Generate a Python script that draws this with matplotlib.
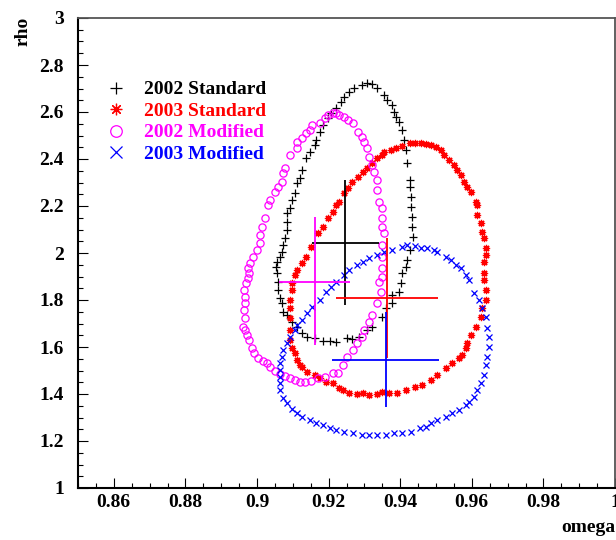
import matplotlib
matplotlib.use("Agg")
import matplotlib.pyplot as plt
from matplotlib.ticker import MultipleLocator, FuncFormatter

# 1-sigma contours in the (omega, rho) plane
std2002_omega = [0.9306, 0.9322, 0.9336, 0.9356, 0.9364, 0.9378, 0.9384, 0.9389, 0.9398, 0.9406,
                 0.9412, 0.9417, 0.9420, 0.9426, 0.9426, 0.9431, 0.9431, 0.9434, 0.9434, 0.9437,
                 0.9426, 0.9420, 0.9417, 0.9406, 0.9403, 0.9398, 0.9378, 0.9378, 0.9361, 0.9350,
                 0.9322, 0.9308, 0.9286, 0.9264, 0.9250, 0.9222, 0.9203, 0.9183, 0.9161, 0.9141,
                 0.9127, 0.9111, 0.9097, 0.9083, 0.9072, 0.9069, 0.9063, 0.9060, 0.9058, 0.9055,
                 0.9052, 0.9055, 0.9063, 0.9069, 0.9072, 0.9077, 0.9083, 0.9083, 0.9085, 0.9091,
                 0.9097, 0.9105, 0.9113, 0.9119, 0.9125, 0.9138, 0.9147, 0.9161, 0.9166, 0.9175,
                 0.9183, 0.9197, 0.9208, 0.9222, 0.9236, 0.9244, 0.9258, 0.9272, 0.9292]
std2002_rho = [2.723, 2.719, 2.702, 2.672, 2.651, 2.630, 2.600, 2.579, 2.557, 2.523,
               2.481, 2.438, 2.383, 2.311, 2.281, 2.238, 2.196, 2.153, 2.111, 2.068,
               2.013, 1.970, 1.940, 1.915, 1.872, 1.834, 1.821, 1.787, 1.766, 1.728,
               1.685, 1.672, 1.643, 1.634, 1.638, 1.621, 1.626, 1.626, 1.638, 1.643,
               1.660, 1.685, 1.706, 1.736, 1.749, 1.787, 1.809, 1.843, 1.877, 1.915,
               1.940, 1.962, 1.983, 2.004, 2.034, 2.064, 2.098, 2.132, 2.170, 2.191,
               2.226, 2.255, 2.298, 2.319, 2.353, 2.404, 2.430, 2.460, 2.481, 2.515,
               2.545, 2.574, 2.596, 2.617, 2.643, 2.664, 2.685, 2.702, 2.715]

std2003_omega = [0.9306, 0.9320, 0.9334, 0.9348, 0.9356, 0.9375, 0.9389, 0.9406, 0.9426, 0.9440,
                 0.9459, 0.9473, 0.9487, 0.9501, 0.9515, 0.9523, 0.9537, 0.9551, 0.9559, 0.9571,
                 0.9579, 0.9587, 0.9598, 0.9612, 0.9615, 0.9615, 0.9626, 0.9629, 0.9635, 0.9640,
                 0.9640, 0.9635, 0.9635, 0.9635, 0.9640, 0.9640, 0.9629, 0.9626, 0.9612, 0.9598,
                 0.9587, 0.9585, 0.9573, 0.9565, 0.9546, 0.9529, 0.9504, 0.9487, 0.9462, 0.9440,
                 0.9417, 0.9392, 0.9370, 0.9350, 0.9334, 0.9314, 0.9295, 0.9278, 0.9258, 0.9239,
                 0.9230, 0.9211, 0.9194, 0.9175, 0.9161, 0.9141, 0.9127, 0.9119, 0.9113, 0.9105,
                 0.9097, 0.9091, 0.9091, 0.9091, 0.9091, 0.9091, 0.9097, 0.9097, 0.9105, 0.9111,
                 0.9127, 0.9138, 0.9152, 0.9169, 0.9183, 0.9197, 0.9211, 0.9222, 0.9230, 0.9244,
                 0.9253, 0.9264, 0.9281, 0.9295]
std2003_rho = [2.362, 2.383, 2.404, 2.417, 2.430, 2.438, 2.447, 2.455, 2.468, 2.468,
               2.468, 2.464, 2.460, 2.451, 2.438, 2.417, 2.396, 2.374, 2.353, 2.332,
               2.302, 2.281, 2.260, 2.217, 2.204, 2.162, 2.128, 2.089, 2.064, 2.021,
               1.991, 1.962, 1.915, 1.885, 1.843, 1.800, 1.766, 1.728, 1.685, 1.651,
               1.617, 1.596, 1.566, 1.553, 1.532, 1.511, 1.481, 1.460, 1.438, 1.430,
               1.417, 1.404, 1.404, 1.409, 1.400, 1.396, 1.404, 1.400, 1.404, 1.417,
               1.426, 1.447, 1.451, 1.468, 1.481, 1.494, 1.515, 1.523, 1.545, 1.574,
               1.596, 1.630, 1.672, 1.723, 1.766, 1.800, 1.843, 1.872, 1.906, 1.928,
               1.957, 1.983, 2.026, 2.085, 2.111, 2.149, 2.174, 2.204, 2.217, 2.255,
               2.277, 2.302, 2.323, 2.345]

mod2002_omega = [0.9211, 0.9222, 0.9230, 0.9244, 0.9253, 0.9267, 0.9281, 0.9292, 0.9300, 0.9306,
                 0.9314, 0.9322, 0.9328, 0.9334, 0.9336, 0.9342, 0.9348, 0.9350, 0.9350, 0.9356,
                 0.9350, 0.9350, 0.9350, 0.9350, 0.9342, 0.9345, 0.9334, 0.9322, 0.9314, 0.9300,
                 0.9292, 0.9278, 0.9267, 0.9250, 0.9239, 0.9225, 0.9211, 0.9189, 0.9169, 0.9152,
                 0.9133, 0.9119, 0.9105, 0.9091, 0.9077, 0.9063, 0.9049, 0.9035, 0.9027, 0.9016,
                 0.9002, 0.8993, 0.8985, 0.8977, 0.8971, 0.8966, 0.8960, 0.8966, 0.8963, 0.8966,
                 0.8966, 0.8963, 0.8968, 0.8974, 0.8977, 0.8974, 0.8980, 0.8988, 0.8999, 0.9007,
                 0.9007, 0.9013, 0.9021, 0.9030, 0.9035, 0.9049, 0.9058, 0.9069, 0.9072, 0.9077,
                 0.9091, 0.9111, 0.9113, 0.9127, 0.9138, 0.9147, 0.9155, 0.9175, 0.9189, 0.9197]
mod2002_rho = [2.596, 2.596, 2.587, 2.579, 2.566, 2.553, 2.515, 2.494, 2.472, 2.447,
               2.409, 2.374, 2.345, 2.311, 2.268, 2.217, 2.191, 2.149, 2.111, 2.085,
               2.034, 1.983, 1.936, 1.898, 1.877, 1.834, 1.787, 1.736, 1.706, 1.672,
               1.643, 1.617, 1.587, 1.557, 1.523, 1.489, 1.489, 1.472, 1.468, 1.455,
               1.451, 1.451, 1.460, 1.468, 1.477, 1.485, 1.498, 1.515, 1.532, 1.540,
               1.553, 1.574, 1.596, 1.630, 1.651, 1.672, 1.685, 1.723, 1.757, 1.787,
               1.813, 1.843, 1.872, 1.894, 1.915, 1.936, 1.957, 1.983, 2.013, 2.043,
               2.077, 2.111, 2.149, 2.204, 2.226, 2.260, 2.281, 2.302, 2.340, 2.362,
               2.417, 2.447, 2.472, 2.489, 2.511, 2.523, 2.545, 2.553, 2.574, 2.587]

mod2003_omega = [0.9420, 0.9440, 0.9459, 0.9476, 0.9495, 0.9504, 0.9529, 0.9543, 0.9557, 0.9571,
                 0.9585, 0.9593, 0.9607, 0.9621, 0.9629, 0.9640, 0.9643, 0.9649, 0.9649, 0.9643,
                 0.9640, 0.9635, 0.9626, 0.9615, 0.9607, 0.9593, 0.9585, 0.9565, 0.9546, 0.9529,
                 0.9504, 0.9487, 0.9473, 0.9454, 0.9431, 0.9406, 0.9384, 0.9361, 0.9336, 0.9314,
                 0.9292, 0.9267, 0.9244, 0.9222, 0.9203, 0.9183, 0.9166, 0.9147, 0.9127, 0.9111,
                 0.9097, 0.9083, 0.9072, 0.9063, 0.9063, 0.9063, 0.9063, 0.9063, 0.9069, 0.9072,
                 0.9083, 0.9091, 0.9105, 0.9113, 0.9127, 0.9141, 0.9155, 0.9175, 0.9194, 0.9208,
                 0.9222, 0.9244, 0.9258, 0.9278, 0.9295, 0.9314, 0.9334, 0.9356, 0.9378, 0.9406]
mod2003_rho = [2.034, 2.030, 2.021, 2.021, 2.013, 2.004, 1.983, 1.970, 1.949, 1.936,
               1.906, 1.885, 1.830, 1.800, 1.766, 1.728, 1.681, 1.643, 1.600, 1.557,
               1.523, 1.481, 1.447, 1.417, 1.387, 1.366, 1.353, 1.332, 1.319, 1.302,
               1.289, 1.277, 1.260, 1.255, 1.238, 1.234, 1.234, 1.226, 1.226, 1.226,
               1.226, 1.234, 1.238, 1.247, 1.255, 1.268, 1.277, 1.289, 1.302, 1.319,
               1.336, 1.362, 1.383, 1.417, 1.447, 1.472, 1.502, 1.532, 1.557, 1.587,
               1.617, 1.643, 1.672, 1.694, 1.715, 1.745, 1.770, 1.800, 1.834, 1.855,
               1.877, 1.906, 1.928, 1.949, 1.962, 1.979, 1.991, 2.004, 2.013, 2.026]

# Best-fit points with asymmetric errors
fit_labels = ["2002 Standard", "2003 Standard", "2002 Modified", "2003 Modified"]
fit_omega = [0.9247, 0.9364, 0.9161, 0.9359]
fit_omega_err = [0.0094, 0.0142, 0.0100, 0.0150]
fit_rho = [2.043, 1.809, 1.877, 1.545]
fit_rho_err_lo = [0.264, 0.256, 0.268, 0.200]
fit_rho_err_hi = [0.268, 0.255, 0.276, 0.204]

colors = ["black", "#ff0000", "#ff00ff", "#0000ff"]
markers = ["+", (8, 2, 0), "o", "x"]
marker_sizes = [5.2, 5.2, 5.2, 5.0]

plt.rcParams["font.family"] = ["Liberation Serif", "DejaVu Serif"]
plt.rcParams["font.weight"] = "bold"

fig = plt.figure(figsize=(6.16, 5.40), dpi=100)
ax = fig.add_axes([78 / 616, 52 / 540, 537 / 616, 470 / 540])

contours = [(std2002_omega, std2002_rho), (std2003_omega, std2003_rho),
            (mod2002_omega, mod2002_rho), (mod2003_omega, mod2003_rho)]

handles = []
for (xs, ys), c, m, ms, lab in zip(contours, colors, markers, marker_sizes, fit_labels):
    face = "none" if m == "o" else c
    h, = ax.plot(xs, ys, linestyle="none", marker=m, markersize=ms,
                 markeredgewidth=0.9, color=c, markerfacecolor=face, label=lab)
    handles.append(h)

for i in range(4):
    ax.errorbar(fit_omega[i], fit_rho[i], xerr=fit_omega_err[i],
                yerr=[[fit_rho_err_lo[i]], [fit_rho_err_hi[i]]],
                fmt="none", ecolor=colors[i], elinewidth=1.3, capsize=0, zorder=5)

ax.set_xlim(0.85, 1.0)
ax.set_ylim(1.0, 3.0)

ax.xaxis.set_major_locator(MultipleLocator(0.02))
ax.xaxis.set_minor_locator(MultipleLocator(0.005))
ax.yaxis.set_major_locator(MultipleLocator(0.2))
ax.yaxis.set_minor_locator(MultipleLocator(0.05))
fmt = FuncFormatter(lambda v, p: "%g" % round(v, 3))
ax.xaxis.set_major_formatter(fmt)
ax.yaxis.set_major_formatter(fmt)

ax.tick_params(which="both", direction="in", top=False, right=False, width=0.8, color="black")
ax.tick_params(which="major", length=7)
ax.tick_params(which="minor", length=3.8)
ax.tick_params(axis="x", which="major", labelsize=14, pad=4)
ax.tick_params(axis="y", which="major", labelsize=14, pad=10)
for lbl in ax.get_xticklabels() + ax.get_yticklabels():
    lbl.set_fontweight("bold")

for side in ("left", "bottom"):
    ax.spines[side].set_linewidth(1.5)
    ax.spines[side].set_color("black")
for side in ("top", "right"):
    ax.spines[side].set_linewidth(1.3)
    ax.spines[side].set_color("#555555")

fig.text(23 / 616, 1 - 17 / 540, "rho", rotation=90, ha="center", va="top",
         fontsize=14, fontweight="bold")
fig.text(615 / 616, 1 - 527 / 540, "omega", ha="right", va="center",
         fontsize=14, fontweight="bold")

leg = ax.legend(handles=handles, loc="upper left",
                bbox_to_anchor=(97 / 616, 1 - 71 / 540), bbox_transform=fig.transFigure,
                frameon=False, markerscale=1.6, handlelength=1.0, handletextpad=0.9,
                labelspacing=0.2, prop={"size": 14, "weight": "bold"}, borderpad=0)
for txt, c in zip(leg.get_texts(), colors):
    txt.set_color(c)

fig.savefig("out.png", dpi=100)
